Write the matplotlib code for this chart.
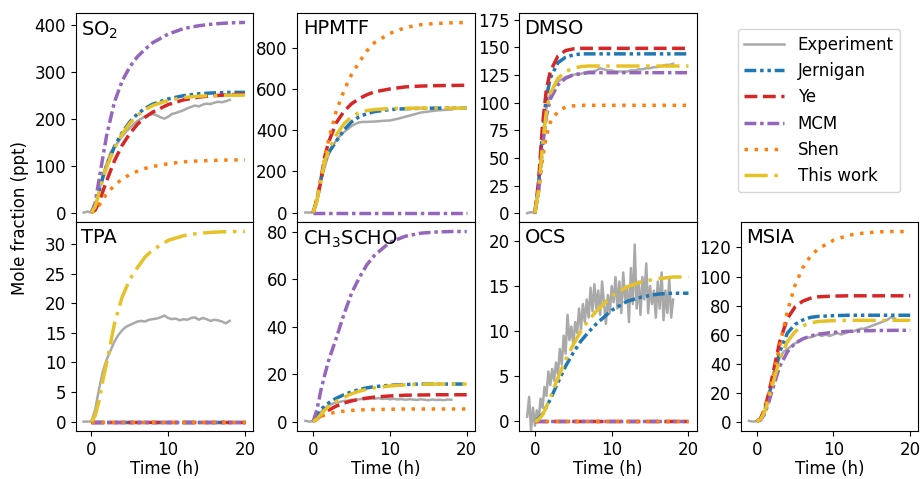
import numpy as np
import matplotlib
matplotlib.use("Agg")
import matplotlib.pyplot as plt
from matplotlib.ticker import MultipleLocator

# time grids (h)
t_model = [0, 0.5, 1, 1.5, 2, 3, 4, 5, 6, 7, 8, 10, 12, 14, 16, 18, 20]
t_exp = list(np.arange(-1, 18.01, 0.5))
t_exp_ocs = list(np.arange(-1, 18.01, 0.25))

# SO2
so2_exp = [0, 2, 0, 10, 45, 80, 105, 128, 140, 150, 162, 172, 180, 188, 195, 200, 205, 208,
           210, 207, 203, 200, 204, 210, 212, 215, 218, 222, 225, 228, 226, 230, 232, 231,
           234, 236, 235, 237, 240]
so2_jernigan = [0, 15, 45, 75, 100, 140, 170, 193, 210, 222, 231, 242, 249, 253, 255, 256, 256]
so2_ye = [0, 5, 22, 45, 68, 110, 143, 168, 188, 203, 214, 230, 240, 246, 249, 251, 252]
so2_mcm = [0, 20, 70, 118, 165, 235, 280, 310, 332, 348, 362, 380, 392, 398, 402, 404, 405]
so2_shen = [0, 5, 15, 28, 40, 58, 71, 81, 88, 94, 98, 104, 108, 110, 111, 112, 112]
so2_this = [0, 12, 42, 72, 97, 137, 167, 190, 207, 219, 228, 239, 245, 248, 249, 250, 250]

# HPMTF
hpmtf_exp = [0, 0, 0, 60, 150, 220, 280, 320, 350, 372, 390, 405, 420, 430, 438, 440, 440,
             441, 442, 443, 445, 446, 447, 451, 455, 460, 465, 470, 475, 480, 485, 488, 490,
             493, 495, 497, 498, 499, 500]
hpmtf_jernigan = [0, 60, 160, 245, 290, 345, 400, 440, 465, 480, 490, 500, 504, 506, 507, 507, 507]
hpmtf_ye = [0, 60, 150, 270, 340, 435, 490, 528, 553, 572, 586, 600, 610, 614, 616, 617, 618]
hpmtf_mcm = [0] * 17
hpmtf_shen = [0, 70, 165, 260, 350, 490, 590, 670, 730, 785, 825, 870, 898, 912, 918, 921, 923]
hpmtf_this = [0, 55, 155, 245, 300, 375, 430, 465, 485, 495, 500, 505, 506, 507, 507, 507, 507]

# DMSO
dmso_exp = [0, 1, 0, 25, 70, 95, 108, 115, 119, 121, 123, 124, 125, 126, 126, 127, 128, 128,
            129, 131, 130, 129, 129, 128, 128, 128, 128, 129, 129, 130, 130, 131, 131, 132,
            132, 133, 134, 134, 135]
dmso_jernigan = [0, 28, 75, 105, 122, 136, 141, 143, 144, 144, 144, 144, 144, 144, 144, 144, 144]
dmso_ye = [0, 30, 80, 112, 128, 142, 147, 148.5, 149, 149, 149, 149, 149, 149, 149, 149, 149]
dmso_mcm = [0, 20, 60, 88, 103, 116, 122, 125, 126, 127, 127, 127, 127, 127, 127, 127, 127]
dmso_shen = [0, 20, 50, 70, 82, 92, 96, 97, 97.5, 97.5, 97.5, 97.5, 97.5, 97.5, 97.5, 97.5, 97.5]
dmso_this = [0, 22, 62, 92, 108, 122, 128, 131, 132.5, 133, 133, 133, 133, 133, 133, 133, 133]

# TPA
tpa_exp = [0, 0, 0, 2, 5.5, 8.5, 10.5, 12, 13.5, 14.6, 15.4, 16, 16.3, 16.6, 16.9, 17, 16.9,
           17.2, 17.3, 17.4, 17.6, 17.9, 17.5, 17.3, 17.4, 17.1, 17.3, 17.2, 17.5, 17.6, 17.2,
           17.5, 17.3, 17.0, 17.2, 17.1, 16.9, 16.6, 17.0]
tpa_jernigan = [0] * 17
tpa_ye = [0] * 17
tpa_mcm = [0] * 17
tpa_shen = [0] * 17
tpa_this = [0, 1, 3.5, 7, 10, 16.5, 21, 24, 26, 27.8, 29, 30.6, 31.4, 31.8, 32, 32.1, 32.1]

# CH3SCHO
ch3scho_exp = [0.3, 0, 0.2, 2, 4, 5.5, 6.8, 7.5, 8, 8.3, 8.7, 8.8, 9.2, 9.0, 9.4, 9.6, 9.5,
               9.8, 9.6, 9.9, 9.5, 9.7, 9.4, 9.6, 9.3, 9.5, 9.2, 9.4, 9.3, 9.1, 9.4, 9.2, 9.0,
               9.3, 9.1, 9.2, 9.0, 9.3, 9.2]
ch3scho_jernigan = [0, 2.5, 5, 6.5, 7.8, 9.8, 11.3, 12.5, 13.5, 14.2, 14.7, 15.3, 15.6, 15.8, 15.8, 15.8, 15.8]
ch3scho_ye = [0, 1, 2.5, 3.8, 4.8, 6.5, 7.8, 8.7, 9.4, 9.9, 10.3, 10.8, 11.1, 11.2, 11.3, 11.3, 11.3]
ch3scho_mcm = [0, 5, 13, 19.5, 25.5, 35, 45, 54, 60.5, 66, 70, 75.5, 78, 79.3, 79.8, 80, 80]
ch3scho_shen = [0, 1, 2, 2.8, 3.3, 4, 4.4, 4.7, 4.9, 5, 5.1, 5.2, 5.3, 5.3, 5.3, 5.3, 5.3]
ch3scho_this = [0, 1, 3, 4.8, 6.2, 8.5, 10.2, 11.7, 12.8, 13.6, 14.2, 15, 15.5, 15.7, 15.8, 15.8, 15.8]

# OCS (noisier measurement, finer time steps)
ocs_exp = [0.5, 2.7, -1.0, 1.5, -0.5, 1.2, 0.3, 2.5, 1.5, 3.8, 2.8, 5.5, 4.0, 5.8, 4.5, 6.5,
           5.2, 8.0, 6.3, 9.5, 7.5, 11.8, 9.0, 10.5, 8.5, 11.0, 9.8, 12.5, 10.2, 13.0, 11.0,
           13.5, 11.5, 14.8, 12.2, 15.2, 12.5, 14.5, 11.8, 15.5, 13.0, 10.8, 14.0, 12.0, 15.0,
           13.2, 16.0, 12.5, 15.5, 12.0, 16.5, 13.5, 15.0, 11.0, 17.0, 13.0, 19.6, 12.5, 15.5,
           11.8, 16.0, 13.5, 17.5, 12.0, 15.0, 13.0, 14.5, 11.5, 15.5, 12.5, 16.5, 11.2, 14.5,
           12.0, 15.8, 11.5, 13.5]
ocs_jernigan = [0, 0.3, 0.8, 1.6, 2.4, 4.3, 6.1, 7.6, 8.9, 9.9, 10.8, 12.3, 13.3, 13.8, 14.1, 14.2, 14.2]
ocs_ye = [0] * 17
ocs_mcm = [0] * 17
ocs_shen = [0] * 17
ocs_this = [0, 0.2, 0.7, 1.6, 2.6, 4.8, 6.8, 8.5, 10, 11.2, 12.2, 13.9, 14.9, 15.5, 15.8, 16, 16]

# MSIA
msia_exp = [0.5, 0, 0.3, 1, 6, 15, 26, 37, 44, 48, 50, 52, 54, 55, 57, 58, 58, 59, 60, 59, 60,
            59, 60, 61, 60, 61, 62, 62, 63, 64, 64, 65, 66, 67, 68, 69, 70, 72, 71]
msia_jernigan = [0, 2, 7, 16, 27, 48, 61, 67, 70, 71.8, 72.5, 73, 73.3, 73.3, 73.3, 73.3, 73.3]
msia_ye = [0, 2, 8, 18, 30, 55, 71, 79, 83, 85, 86, 86.5, 86.7, 86.7, 86.7, 86.7, 86.7]
msia_mcm = [0, 1, 5, 12, 21, 38, 48, 54, 57, 59, 60.3, 61.5, 62.2, 62.6, 62.8, 62.9, 62.9]
msia_shen = [0, 2, 8, 17, 28, 52, 76, 94, 106, 114, 119, 125, 128.5, 130, 130.8, 131, 131]
msia_this = [0, 1.5, 6, 14, 24, 43, 55, 62, 66, 68, 69, 69.6, 69.8, 69.8, 69.8, 69.8, 69.8]

species = ["SO$_2$", "HPMTF", "DMSO", "TPA", "CH$_3$SCHO", "OCS", "MSIA"]

# model styles: label, colour, dash pattern
models = [
    ("Jernigan", "#1f77b4", (0, (3.4, 1.1, 1, 1.1, 1, 1.1))),
    ("Ye", "#d62728", (0, (3.7, 1.6))),
    ("MCM", "#9467bd", (0, (3.4, 1.1, 1, 1.1))),
    ("Shen", "#ff7f0e", (0, (1, 1.9))),
    ("This work", "#e6c229", (0, (6.7, 1.9, 1, 1.9))),
]

plt.rcParams["font.size"] = 12

fig, axes = plt.subplots(2, 4, figsize=(9.22, 4.79), dpi=100, sharex=True)
fig.subplots_adjust(left=0.082, right=0.996, top=0.973, bottom=0.100,
                    wspace=0.25, hspace=0.0)

panels = [
    (axes[0, 0], species[0], t_exp, so2_exp,
     [so2_jernigan, so2_ye, so2_mcm, so2_shen, so2_this], None, 100),
    (axes[0, 1], species[1], t_exp, hpmtf_exp,
     [hpmtf_jernigan, hpmtf_ye, hpmtf_mcm, hpmtf_shen, hpmtf_this], None, 200),
    (axes[0, 2], species[2], t_exp, dmso_exp,
     [dmso_jernigan, dmso_ye, dmso_mcm, dmso_shen, dmso_this], (-8, 181), 25),
    (axes[1, 0], species[3], t_exp, tpa_exp,
     [tpa_jernigan, tpa_ye, tpa_mcm, tpa_shen, tpa_this], None, 5),
    (axes[1, 1], species[4], t_exp, ch3scho_exp,
     [ch3scho_jernigan, ch3scho_ye, ch3scho_mcm, ch3scho_shen, ch3scho_this], None, 20),
    (axes[1, 2], species[5], t_exp_ocs, ocs_exp,
     [ocs_jernigan, ocs_ye, ocs_mcm, ocs_shen, ocs_this], (-1.1, 22.1), 5),
    (axes[1, 3], species[6], t_exp, msia_exp,
     [msia_jernigan, msia_ye, msia_mcm, msia_shen, msia_this], None, 20),
]

handles = []
for ax, name, te, exp, series, ylim, ystep in panels:
    h_exp, = ax.plot(te, exp, color="darkgray", lw=1.8, label="Experiment")
    hs = [h_exp]
    for (label, color, dash), vals in zip(models, series):
        h, = ax.plot(t_model, vals, color=color, lw=2.5, linestyle=dash, label=label)
        hs.append(h)
    if not handles:
        handles = hs
    if ylim is not None:
        ax.set_ylim(*ylim)
    ax.yaxis.set_major_locator(MultipleLocator(ystep))
    ax.text(0.03, 0.97, name, transform=ax.transAxes, fontsize=14,
            ha="left", va="top")

for ax in axes[1, :]:
    ax.set_xlabel("Time (h)", labelpad=1)
axes[1, 0].set_xticks([0, 10, 20])

# legend lives in the empty top-right cell
axes[0, 3].axis("off")
fig.legend(handles=handles, loc="upper left", bbox_to_anchor=(0.800, 0.9395),
           borderaxespad=0, handlelength=2.4, fontsize=12, frameon=True)

fig.text(0.022, 0.545, "Mole fraction (ppt)", rotation=90, ha="center", va="center",
         fontsize=12)

fig.savefig("out.png", dpi=100)
